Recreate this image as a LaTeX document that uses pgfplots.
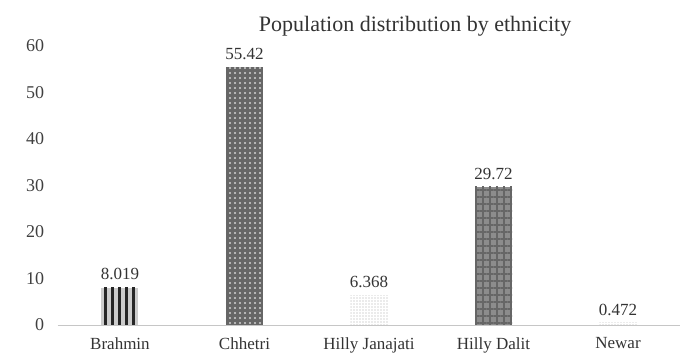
\documentclass[border=0pt]{standalone}
\usepackage{fontspec}
\setmainfont{Liberation Serif}
\usepackage{pgfplots}
\pgfplotsset{compat=1.18}
\usetikzlibrary{patterns,patterns.meta}
\begin{document}
\begin{tikzpicture}
\begin{axis}[
  name=ax,
  scale only axis,
  width=622.6pt, height=279pt,
  at={(0,0)}, anchor=south west,
  ybar, bar width=37pt, bar shift=0pt,
  xmin=-0.5, xmax=4.5,
  ymin=0, ymax=60,
  ytick={0,10,...,60},
  xtick={0,1,2,3,4},
  xticklabels={Brahmin,Chhetri,Hilly Janajati,Hilly Dalit,Newar},
  axis x line*=bottom, axis y line*=left,
  y axis line style={draw=none},
  x axis line style={draw=gray!45, line width=0.8pt, -},
  major tick length=0pt,
  /pgf/number format/assume math mode=true,
  yticklabel style={font=\fontsize{18}{18}\selectfont, text=black!75, xshift=-10pt},
  xticklabel style={font=\fontsize{17}{17}\selectfont, text=black!80, yshift=-9pt},
  title={Population distribution by ethnicity},
  title style={at={(rel axis cs:0.574,1)}, anchor=center, yshift=14pt, font=\fontsize{22}{22}\selectfont, text=black!80},
  nodes near coords={\pgfmathprintnumber[precision=3]{\pgfplotspointmeta}},
  every node near coord/.append style={font=\fontsize{17}{17}\selectfont, text=black!80, anchor=south, yshift=4pt},
]
\addplot[draw=none, fill=gray!40, postaction={pattern={Lines[angle=90,distance=7pt,line width=3pt]}, pattern color=black!85}] coordinates {(0,8.019)};
\addplot[draw=none, fill=black!60, postaction={pattern={Dots[distance=5pt,radius=1.1pt]}, pattern color=gray!35}] coordinates {(1,55.42)};
\addplot[draw=none, fill=white, postaction={pattern={Dots[distance=3pt,radius=0.7pt]}, pattern color=gray!65}] coordinates {(2,6.368)};
\addplot[draw=none, fill=gray!90, postaction={pattern={Hatch[distance=7pt,line width=1.5pt,angle=0]}, pattern color=black!60}] coordinates {(3,29.72)};
\addplot[draw=none, fill=white, postaction={pattern={Dots[distance=3pt,radius=0.7pt]}, pattern color=gray!65}] coordinates {(4,0.472)};
\end{axis}
\pgfresetboundingbox
\useasboundingbox (-57.7pt,-33pt) rectangle (630.3pt,325pt);
\end{tikzpicture}
\end{document}
